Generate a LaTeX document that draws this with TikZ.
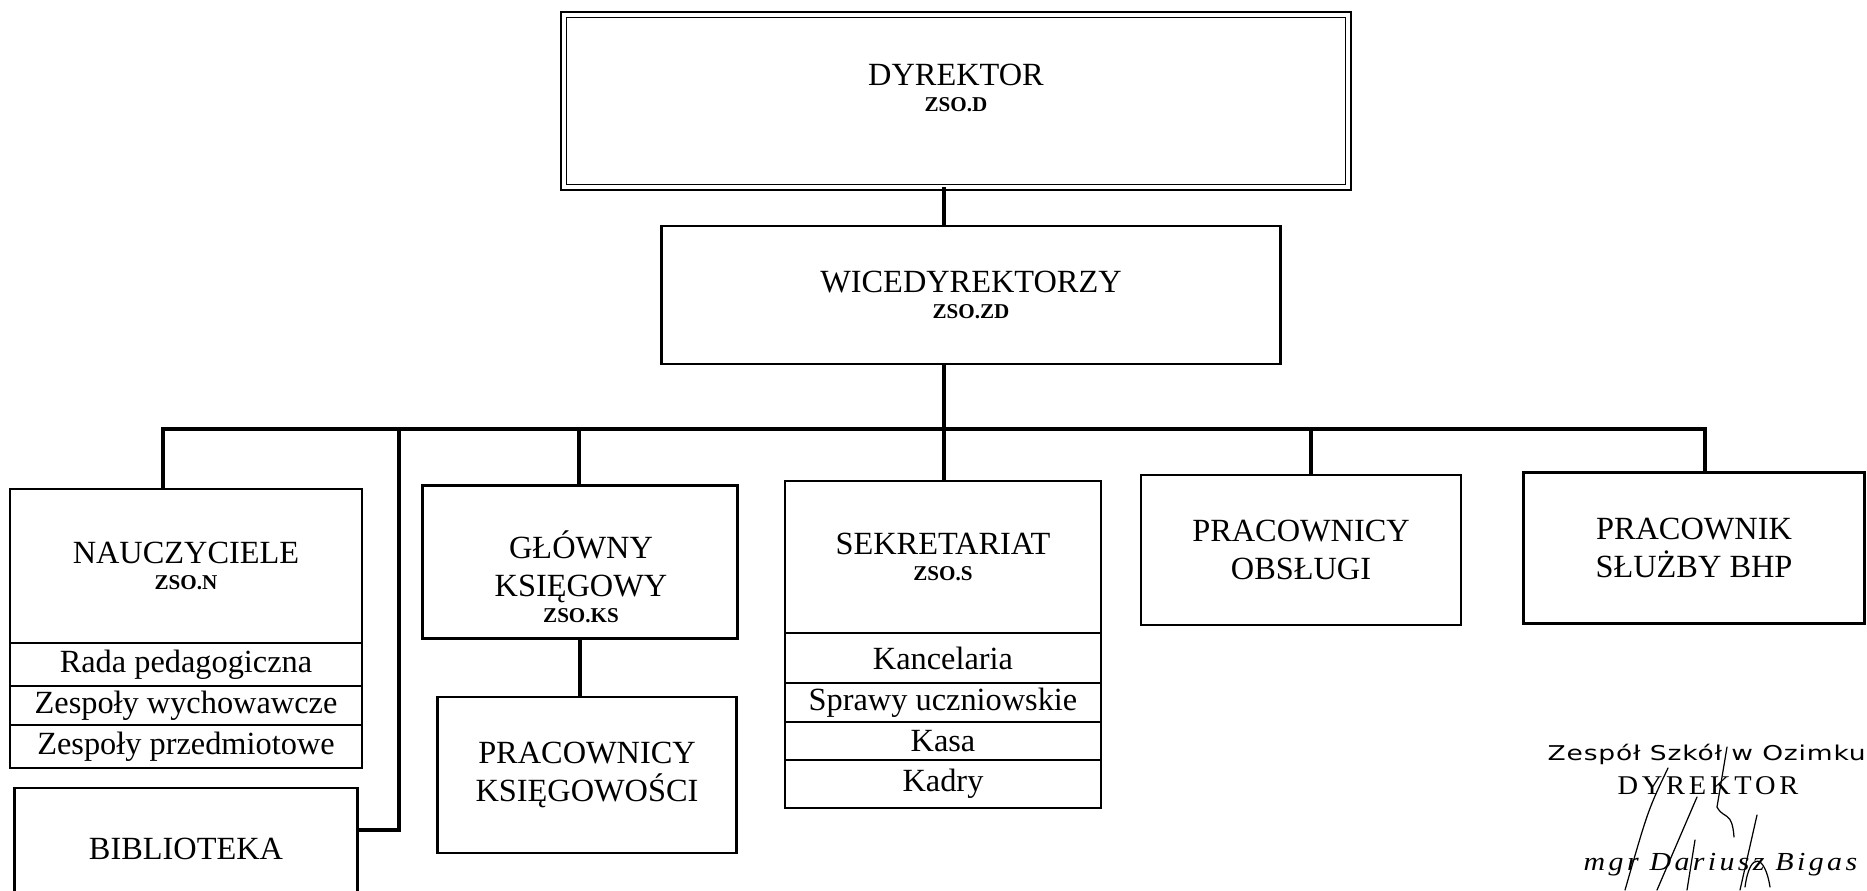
\documentclass[tikz,border=0pt]{standalone}
\usepackage{fontspec}
\setmainfont{Liberation Serif}
\newfontfamily\stampsans[FakeStretch=1.3, LetterSpace=4]{DejaVu Sans}
\newfontfamily\stampserif[FakeStretch=1.05, LetterSpace=14]{Liberation Serif}
\newfontfamily\stampital[FakeStretch=1.15, LetterSpace=13]{Liberation Serif}
\usepackage{tikz}
\usetikzlibrary{calc}
\usetikzlibrary{positioning}
\newcommand{\mainsize}{\fontsize{9.2}{10.8}\selectfont}
\newcommand{\unitcode}[1]{{\fontsize{6}{7}\selectfont\bfseries #1}}
\tikzset{
	unit/.style={draw, line width=0.7pt, inner sep=0pt, outer sep=0pt, align=center, font=\mainsize},
	headunit/.style={unit, double, line width=0.45pt, double distance=1.1pt},
	row/.style={draw, line width=0.5pt, inner sep=0pt, outer sep=0pt, font=\mainsize},
	link/.style={line width=0.95pt},
	sign/.style={line width=0.35pt, line cap=round}
}

\begin{document}
\begin{tikzpicture}[x=0.01cm, y=-0.01cm]
			\useasboundingbox (0,0) rectangle (1867,890);
			\clip (0,0) rectangle (1867,890);
			%top of the school
			\node[headunit, minimum width=7.84cm, minimum height=1.72cm] (dyr) at (956,101) {};
			\node[align=center, font=\mainsize] (dyrtext) at (956,88) {DYREKTOR\\[-3.4pt]\unitcode{ZSO.D}};
			\node[unit, minimum width=6.19cm, minimum height=1.38cm] (wice) at (971,295) {WICEDYREKTORZY\\[-3.4pt]\unitcode{ZSO.ZD}};
			%units under the deputies
			\node[unit, minimum width=3.52cm, minimum height=1.54cm] (nauc) at (186,566) {NAUCZYCIELE\\[-3.4pt]\unitcode{ZSO.N}};
			\node[unit, minimum width=3.43cm, minimum height=1.22cm] (bib) at (186,849) {BIBLIOTEKA};
			\node[unit, minimum width=3.15cm, minimum height=1.53cm] (glo) at (580,562) {};
			\node[align=center, font=\mainsize] (glotext) at (581,577) {GŁÓWNY\\KSIĘGOWY\\[-3.4pt]\unitcode{ZSO.KS}};
			\node[unit, minimum width=2.99cm, minimum height=1.56cm] (pks) at (587,775) {PRACOWNICY\\KSIĘGOWOŚCI};
			\node[unit, minimum width=3.16cm, minimum height=1.52cm] (sek) at (943,557) {SEKRETARIAT\\[-3.4pt]\unitcode{ZSO.S}};
			\node[unit, minimum width=3.2cm, minimum height=1.5cm] (obs) at (1301,550) {PRACOWNICY\\OBSŁUGI};
			\node[unit, minimum width=3.41cm, minimum height=1.51cm] (bhp) at (1694,548) {PRACOWNIK\\SŁUŻBY BHP};
			%lists under the boxes
			\node[row, minimum width=3.52cm, minimum height=0.43cm, anchor=north] (rada) at (nauc.south) {Rada pedagogiczna};
			\node[row, minimum width=3.52cm, minimum height=0.39cm, below=0pt of rada] (wych) {Zespoły wychowawcze};
			\node[row, minimum width=3.52cm, minimum height=0.43cm, below=0pt of wych] (przed) {Zespoły przedmiotowe};
			\node[row, minimum width=3.16cm, minimum height=0.5cm, anchor=north] (kanc) at (sek.south) {Kancelaria};
			\node[row, minimum width=3.16cm, minimum height=0.39cm, below=0pt of kanc] (spraw) {Sprawy uczniowskie};
			\node[row, minimum width=3.16cm, minimum height=0.38cm, below=0pt of spraw] (kasa) {Kasa};
			\node[row, minimum width=3.16cm, minimum height=0.48cm, below=0pt of kasa] (kadry) {Kadry};
			%connecting lines
			\coordinate (spine) at (944,429);
			\coordinate (b1) at (163,429);
			\coordinate (b2) at (399,429);
			\coordinate (b3) at (579,429);
			\coordinate (b4) at (1311,429);
			\coordinate (b5) at (1705,429);
			\coordinate (bibjoint) at (399,830);
			\draw[link] (dyr.south -| spine) -- (wice.north -| spine);
			\draw[link] (wice.south -| spine) -- (sek.north -| spine);
			\draw[link] (b1 |- nauc.north) -- (b1) -- (b5) -- (b5 |- bhp.north);
			\draw[link] (b2) -- (bibjoint) -- (bibjoint -| bib.east);
			\draw[link] (b3) -- (b3 |- glo.north);
			\draw[link] (glo.south) -- (glo.south |- pks.north);
			\draw[link] (b4) -- (b4 |- obs.north);
			%stamp and signature
			\node[anchor=base west, inner sep=0pt, font={\stampsans\fontsize{5.8}{7}\selectfont}] (stampschool) at (1547,760) {Zespół Szkół w Ozimku};
			\node[anchor=base, inner sep=0pt, font={\stampserif\fontsize{7.7}{9}\selectfont}] (stamptitle) at (1708,794) {DYREKTOR};
			\node[anchor=base west, inner sep=0pt, font={\stampital\itshape\fontsize{7.4}{9}\selectfont}] (stampname) at (1583,870) {mgr Dariusz Bigas};
			\draw[sign] (1668,768) .. controls (1648,810) .. (1625,890);
			\draw[sign] (1697,797) -- (1657,890);
			\draw[sign] (1727,747) -- (1717,807) .. controls (1724,820) and (1732,810) .. (1734,837);
			\draw[sign] (1695,840) -- (1687,890);
			\draw[sign] (1757,815) -- (1740,890);
			\draw[sign] (1745,887) .. controls (1750,850) and (1765,855) .. (1770,887);
		\end{tikzpicture}
\end{document}
